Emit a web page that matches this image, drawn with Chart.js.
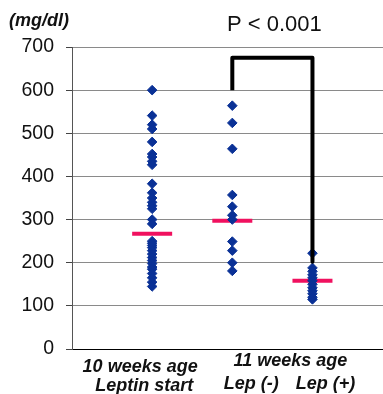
<!DOCTYPE html>
<html>
<head>
<meta charset="utf-8">
<script src="https://cdn.jsdelivr.net/npm/chart.js@4/dist/chart.umd.min.js"></script>
<style>
  html, body { margin: 0; padding: 0; background: #fff; overflow: hidden; }
  canvas { display: block; }
</style>
</head>
<body>
<canvas id="chart" width="383" height="394"></canvas>
<script>
// data
const groupX = [1, 2, 3];
const leptinStart = [600, 541, 520, 510, 480, 452, 445, 435, 427, 383, 362, 350, 340, 332, 325, 300, 290,
  250, 245, 240, 235, 228, 220, 212, 205, 198, 190, 185, 175, 165, 155, 145];
const lepMinus = [564, 524, 464, 357, 330, 310, 300, 249, 228, 200, 181];
const lepPlus = [222, 188, 180, 172, 165, 158, 150, 142, 135, 128, 120, 115];
const groupMeans = [267, 297, 158];
const bracketX = [2, 2, 3, 3];
const bracketY = [600, 675, 675, 202];
const yMin = 0, yMax = 700, yStep = 100;
const pText = "P < 0.001";
const unitText = "(mg/dl)";

const FONT = "'Liberation Sans', Arial, sans-serif";

function pts(x, arr) {
  return arr.map(v => ({ x: x, y: v }));
}

// 📝 extra text: unit, p value, category labels
const textPlugin = {
  id: "texts",
  afterDraw(chart) {
    const ctx = chart.ctx;
    const xs = chart.scales.x;
    const ys = chart.scales.y;
    const g1 = xs.getPixelForValue(1), g2 = xs.getPixelForValue(2), g3 = xs.getPixelForValue(3);
    ctx.save();
    ctx.fillStyle = "#111";
    ctx.textBaseline = "middle";

    ctx.font = "italic bold 18px " + FONT;
    ctx.textAlign = "left";
    ctx.fillText(unitText, 9, 21);

    ctx.font = "22px " + FONT;
    ctx.textAlign = "center";
    ctx.fillText(pText, (g2 + g3) / 2 + 2, 25);

    const y0 = ys.getPixelForValue(0);
    ctx.font = "italic bold 18px " + FONT;
    ctx.fillText("10 weeks age", g1 - 12, y0 + 18);
    ctx.fillText("Leptin start", g1 - 8, y0 + 37);
    ctx.fillText("11 weeks age", (g2 + g3) / 2 + 18, y0 + 12);
    ctx.fillText("Lep (-)", g2 + 19, y0 + 35);
    ctx.fillText("Lep (+)", g3 + 13, y0 + 35);
    ctx.restore();
  }
};

const dotStyle = {
  pointStyle: "rectRot",
  pointRadius: 4.8,
  pointBackgroundColor: "#0a3196",
  pointBorderColor: "#0a3196",
  showLine: false
};

new Chart(document.getElementById("chart"), {
  type: "scatter",
  data: {
    datasets: [
      {
        label: "bracket",
        data: bracketX.map((x, i) => ({ x: x, y: bracketY[i] })),
        showLine: true,
        borderColor: "#000",
        borderWidth: 4,
        borderJoinStyle: "round",
        pointRadius: 0
      },
      Object.assign({ label: "Leptin start", data: pts(groupX[0], leptinStart) }, dotStyle),
      Object.assign({ label: "Lep (-)", data: pts(groupX[1], lepMinus) }, dotStyle),
      Object.assign({ label: "Lep (+)", data: pts(groupX[2], lepPlus) }, dotStyle),
      {
        label: "mean",
        data: groupX.map((x, i) => ({ x: x, y: groupMeans[i] })),
        pointStyle: "line",
        pointRadius: 20,
        pointBorderWidth: 4,
        pointBorderColor: "#f0115f",
        showLine: false
      }
    ]
  },
  options: {
    responsive: false,
    animation: false,
    layout: { autoPadding: false, padding: { top: 47, bottom: 45, left: 0, right: 0 } },
    plugins: {
      legend: { display: false },
      tooltip: { enabled: false }
    },
    scales: {
      x: {
        type: "linear",
        min: 0,
        max: 3.88,
        display: false
      },
      y: {
        min: yMin,
        max: yMax,
        afterFit(s) { s.width = 72; },
        ticks: {
          stepSize: yStep,
          color: "#111",
          padding: 12,
          font: { family: FONT, size: 19.5 }
        },
        grid: {
          color: ctx => ctx.tick && ctx.tick.value === 0 ? "#000" : "#8a8a8a",
          lineWidth: 1,
          tickLength: 6,
          tickColor: "#444"
        },
        border: { color: "#555", width: 1 }
      }
    }
  },
  plugins: [textPlugin]
});
</script>
</body>
</html>
